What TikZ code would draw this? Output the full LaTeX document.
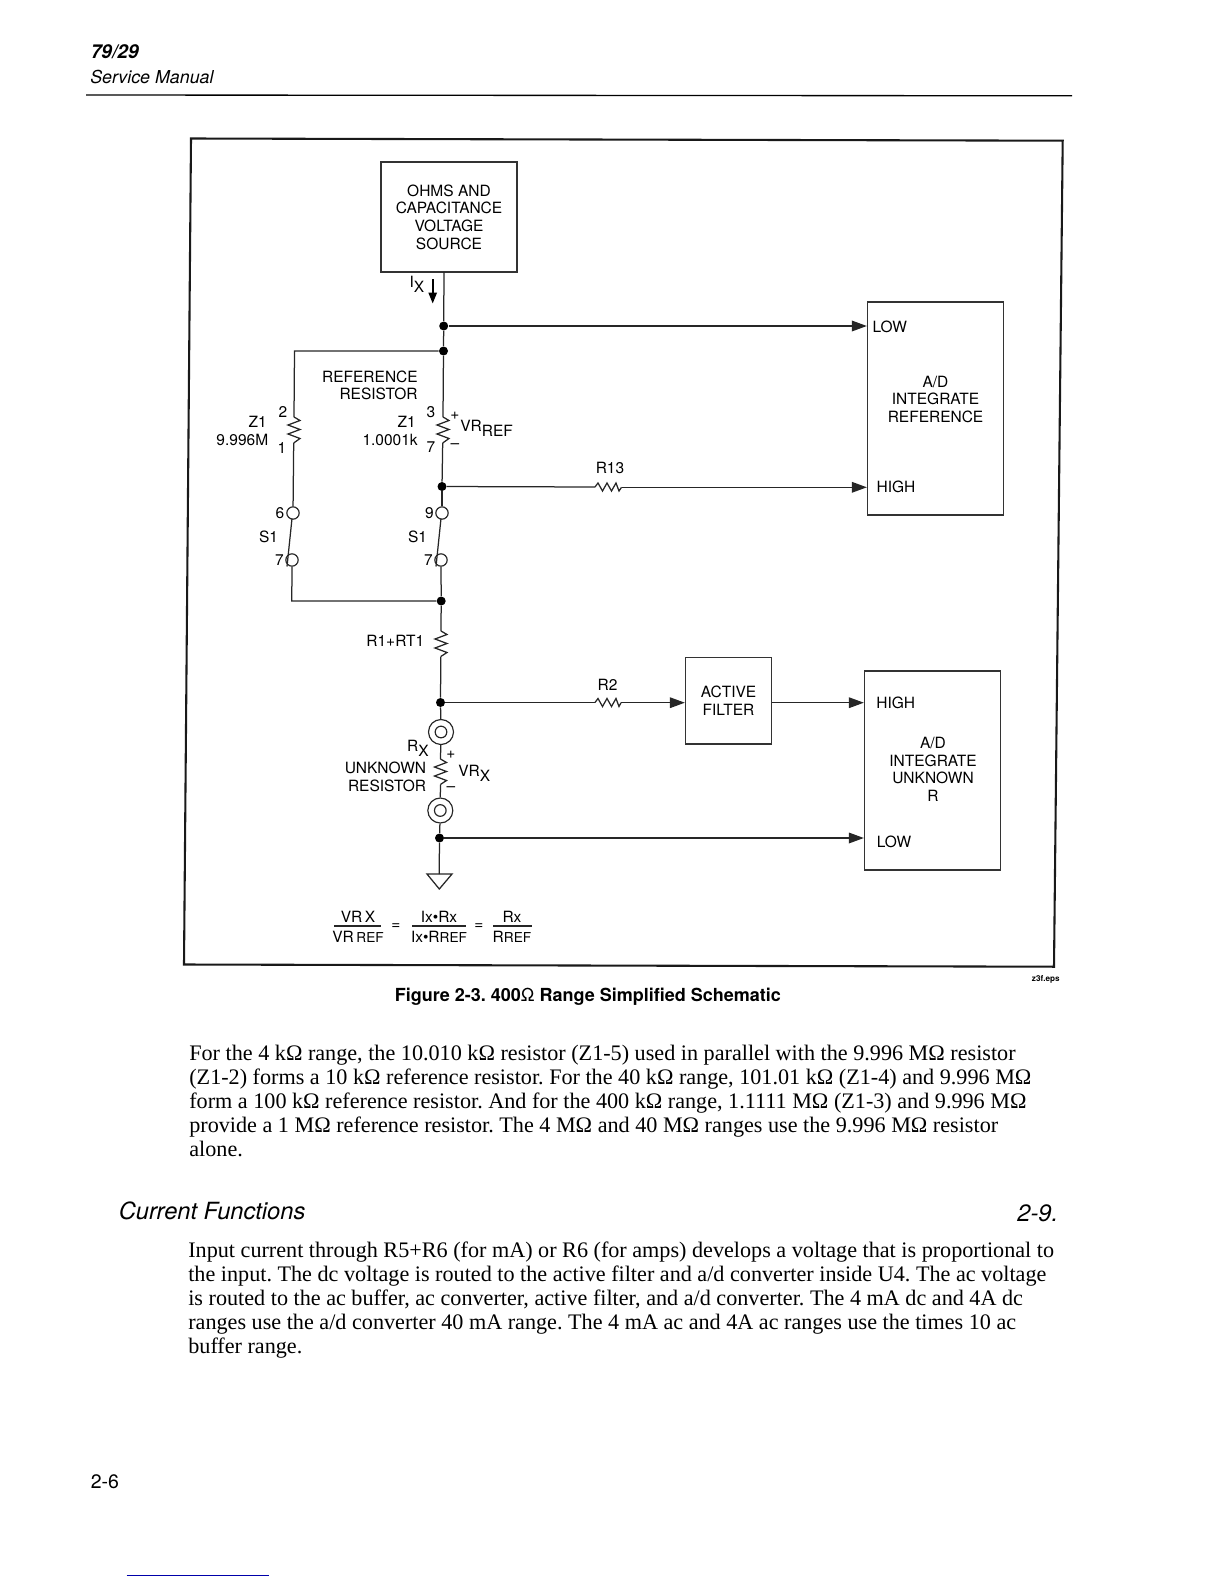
\documentclass[tikz,border=0pt]{standalone}
\usepackage{fontspec}
\setmainfont{TeX Gyre Heros}
\newfontfamily\bodyfont{Liberation Serif}
\usetikzlibrary{arrows.meta}
\frenchspacing
\newcommand{\lab}{\fontsize{9.3}{10.6}\selectfont}
\newcommand{\sublab}[1]{\raisebox{-3pt}{#1}}
\newcommand{\vzig}[2]{\draw[wire] (#1) -- ++(6,3.5) -- ++(-12,4.5) -- ++(12,4.5) -- ++(-12,4.5) -- ++(12,4.5) -- (#2);}
\newcommand{\hzig}[2]{\draw[wire] (#1) -- ++(3,-4) -- ++(4.5,8) -- ++(4.5,-8) -- ++(4.5,8) -- ++(4.5,-8) -- ++(3,8) -- (#2);}
\tikzset{
 x=0.6pt,y=-0.6pt,
 wire/.style={line width=0.75pt,black!85,line join=miter},
 arr/.style={wire,-{Triangle[length=9pt,width=6.4pt]}},
 framel/.style={line width=1.25pt,black!90},
 boxn/.style={draw=black!80,line width=0.8pt,inner sep=0pt,align=center,font=\lab},
 junc/.style={circle,fill=black,inner sep=0pt,minimum size=5.4pt},
 term/.style={circle,draw=black!85,line width=0.7pt,fill=white,inner sep=0pt,minimum size=7.4pt},
 coax/.style={circle,draw=black!85,line width=0.7pt,fill=white,inner sep=0pt,minimum size=15pt},
 coaxin/.style={circle,draw=black!85,line width=0.7pt,fill=white,inner sep=0pt,minimum size=7pt},
 tx/.style={inner sep=0pt,font=\lab,align=center},
 txr/.style={inner sep=0pt,font=\lab,align=right,anchor=east},
 txl/.style={tx,anchor=west},
 bodyl/.style={inner sep=0pt,anchor=base west,font=\bodyfont\fontsize{13.3}{15}\selectfont},
}
\begin{document}
\begin{tikzpicture}
\useasboundingbox (0,0) rectangle (1224,1584);
% header
\node[inner sep=0pt,anchor=base west,font=\fontsize{11.5}{13}\selectfont\bfseries\itshape] (hnum) at (90.5,58) {79/29};
\node[inner sep=0pt,anchor=base west,font=\fontsize{10.7}{13}\selectfont\itshape] (hman) at (90,83) {Service Manual};
\draw[line width=0.8pt] (86,95) -- (1072,95.8);
% frame
\draw[framel] (191,138.5) -- (1062.7,140.7) -- (1054,966.7) -- (184,964.5) -- cycle;
% boxes
\node[boxn,minimum width=81.6pt,minimum height=66pt] (src) at (449,217) {OHMS AND\\CAPACITANCE\\VOLTAGE\\SOURCE};
\node[boxn,minimum width=81.6pt,minimum height=127.8pt] (adr) at (935.5,408.5) {};
\node[boxn,minimum width=51.6pt,minimum height=52pt] (flt) at (728.5,700.5) {ACTIVE\\FILTER};
\node[boxn,minimum width=81.6pt,minimum height=119.4pt] (adu) at (932.5,770.5) {};
% box labels
\node[txl] (lowa) at (872.3,326.5) {LOW};
\node[txl] (higha) at (876.3,487) {HIGH};
\node[tx] (adra) at (935.5,399.3) {A/D\\INTEGRATE\\REFERENCE};
\node[txl] (highb) at (876,703) {HIGH};
\node[txl] (lowb) at (876.5,842) {LOW};
\node[tx] (adua) at (933,769.5) {A/D\\INTEGRATE\\UNKNOWN\\R};
% junctions and terminals
\node[junc] (j1) at (443.7,326) {};
\node[junc] (j2) at (443.5,351) {};
\node[junc] (j3) at (442,486.5) {};
\node[junc] (j4) at (441.2,601) {};
\node[junc] (j5) at (440.5,702.5) {};
\node[junc] (j6) at (439.5,838) {};
\node[term] (t6) at (293,513) {};
\node[term] (t7) at (292,560) {};
\node[term] (t9) at (442,513) {};
\node[term] (t7b) at (441,560) {};
\node[coax] (cxa) at (441,732) {};
\node[coaxin] (cxai) at (441,732) {};
\node[coax] (cxb) at (440.3,810.5) {};
\node[coaxin] (cxbi) at (440.3,810.5) {};
% fixed points
\coordinate (srcb) at (444,272);
\coordinate (c1) at (294.5,351);
\coordinate (c2) at (291.8,601);
\coordinate (r1t) at (294,417);
\coordinate (r1b) at (293.7,443);
\coordinate (r2t) at (443,417);
\coordinate (r2b) at (442.7,443);
\coordinate (r3t) at (441,631);
\coordinate (r3b) at (440.8,656.5);
\coordinate (r4t) at (440.5,759);
\coordinate (r4b) at (440.4,784.5);
\coordinate (r13a) at (595,487);
\coordinate (r13b) at (621.5,487.3);
\coordinate (r2a) at (595,702.5);
\coordinate (r2bb) at (621,702.7);
\coordinate (b6) at (287,566.5);
\coordinate (b9) at (436,566.5);
\coordinate (b6a) at (292,518.5);
\coordinate (b9a) at (441,518.5);
\coordinate (gnd) at (439.2,874);
\coordinate (gl) at (427,874);
\coordinate (gr) at (452,874);
\coordinate (ga) at (439.3,889);
\coordinate (ia) at (432.7,279);
\coordinate (ib) at (432.7,303.5);
% wires
\draw[wire] (srcb) -- (j1);
\draw[wire] (j1) -- (j2);
\draw[wire] (j2) -- (c1) -- (r1t);
\vzig{r1t}{r1b}
\draw[wire] (r1b) -- (t6);
\draw[wire] (j2) -- (r2t);
\vzig{r2t}{r2b}
\draw[wire] (r2b) -- (j3);
\draw[wire] (j3) -- (t9);
\draw[wire] (b6a) -- (b6);
\draw[wire] (b9a) -- (b9);
\draw[wire] (t7) -- (c2) -- (j4);
\draw[wire] (t7b) -- (j4);
\draw[wire] (j4) -- (r3t);
\vzig{r3t}{r3b}
\draw[wire] (r3b) -- (j5);
\draw[wire] (j5) -- (cxa);
\draw[wire] (cxa) -- (r4t);
\vzig{r4t}{r4b}
\draw[wire] (r4b) -- (cxb);
\draw[wire] (cxb) -- (j6);
\draw[wire] (j6) -- (gnd);
\draw[wire] (gl) -- (gr) -- (ga) -- cycle;
\draw[arr] (j1) -- (j1 -| adr.west);
\draw[wire] (j3) -- (r13a);
\hzig{r13a}{r13b}
\draw[arr] (r13b) -- (r13b -| adr.west);
\draw[wire] (j5) -- (r2a);
\hzig{r2a}{r2bb}
\draw[arr] (r2bb) -- (r2bb -| flt.west);
\draw[arr] (flt.east |- r2bb) -- (r2bb -| adu.west);
\draw[arr] (j6) -- (j6 -| adu.west);
\draw[line width=1.1pt,-{Triangle[length=6.6pt,width=5pt]}] (ia) -- (ib);
% labels
\node[tx] (lix) at (417,284) {I\sublab{X}};
\node[txr] (lrr) at (418,385.5) {REFERENCE\\RESISTOR};
\node[txr] (lz1) at (267,422) {Z1};
\node[txr] (lz1v) at (268.5,440) {9.996M};
\node[tx] (l2) at (283,412) {2};
\node[tx] (l1) at (282,448) {1};
\node[txr] (lz2) at (416,422) {Z1};
\node[txr] (lz2v) at (418,440) {1.0001k};
\node[tx] (l3) at (431,412) {3};
\node[tx] (l7) at (431,447.5) {7};
\node[tx] (lp1) at (455,416) {+};
\node[tx] (lm1) at (455,446) {–};
\node[txl] (lvr) at (460,428.5) {VR\sublab{REF}};
\node[tx] (l6) at (280,513) {6};
\node[tx] (l9) at (429.5,513) {9};
\node[tx] (ls1) at (268.5,537) {S1};
\node[tx] (ls2) at (417.5,537) {S1};
\node[tx] (l7c) at (279.5,560) {7};
\node[tx] (l7d) at (428.5,560) {7};
\node[tx] (lr13) at (610,468) {R13};
\node[txr] (lr1) at (424.5,641) {R1+RT1};
\node[tx] (lr2) at (607.5,685) {R2};
\node[tx] (lrx) at (418,748) {R\sublab{X}};
\node[txr] (lun) at (426.5,777) {UNKNOWN\\RESISTOR};
\node[tx] (lp2) at (451,754.5) {+};
\node[tx] (lm2) at (451,789.5) {–};
\node[txl] (lvx) at (458,773.5) {VR\sublab{X}};
% formula
\node[tx] (fa) at (358,917) {VR\,X};
\node[tx] (fb) at (358,937) {VR\,{\fontsize{8.2}{9}\selectfont REF}};
\coordinate (fal) at (334,926);
\coordinate (far) at (381,926);
\draw[wire] (fal) -- (far);
\node[tx] (fe1) at (396,927) {=};
\node[tx] (fc) at (439,917) {Ix•Rx};
\node[tx] (fd) at (439,937) {Ix•R{\fontsize{8.2}{9}\selectfont REF}};
\coordinate (fcl) at (412,926);
\coordinate (fcr) at (466,926);
\draw[wire] (fcl) -- (fcr);
\node[tx] (fe2) at (479,927) {=};
\node[tx] (ff) at (512,917) {Rx};
\node[tx] (fg) at (512,937) {R{\fontsize{8.2}{9}\selectfont REF}};
\coordinate (ffl) at (493,926);
\coordinate (ffr) at (532,926);
\draw[wire] (ffl) -- (ffr);
% caption
\node[inner sep=0pt,anchor=east,font=\fontsize{4.9}{6}\selectfont\bfseries] (eps) at (1060,979.5) {z3f.eps};
\node[inner sep=0pt,anchor=base west,font=\fontsize{10.8}{13}\selectfont\bfseries] (cap) at (394.5,1001.5) {Figure 2-3. 400{\mdseries Ω} Range Simplified Schematic};
% text
\node[bodyl] (b1) at (189,1060.5) {For the 4 kΩ range, the 10.010 kΩ resistor (Z1-5) used in parallel with the 9.996 MΩ resistor};
\node[bodyl] (b2) at (189,1084.5) {(Z1-2) forms a 10 kΩ reference resistor. For the 40 kΩ range, 101.01 kΩ (Z1-4) and 9.996 MΩ};
\node[bodyl] (b3) at (189,1108.5) {form a 100 kΩ reference resistor. And for the 400 kΩ range, 1.1111 MΩ (Z1-3) and 9.996 MΩ};
\node[bodyl] (b4) at (189,1132) {provide a 1 MΩ reference resistor. The 4 MΩ and 40 MΩ ranges use the 9.996 MΩ resistor};
\node[bodyl] (b5) at (189,1156) {alone.};
\node[inner sep=0pt,anchor=base west,font=\fontsize{14.2}{16}\selectfont\itshape] (sec) at (118.5,1219) {Current Functions};
\node[inner sep=0pt,anchor=base east,font=\fontsize{14.2}{16}\selectfont\itshape] (secn) at (1058.5,1221) {2-9.};
\node[bodyl] (c1t) at (188,1257) {Input current through R5+R6 (for mA) or R6 (for amps) develops a voltage that is proportional to};
\node[bodyl] (c2t) at (188,1281) {the input. The dc voltage is routed to the active filter and a/d converter inside U4. The ac voltage};
\node[bodyl] (c3t) at (188,1305) {is routed to the ac buffer, ac converter, active filter, and a/d converter. The 4 mA dc and 4A dc};
\node[bodyl] (c4t) at (188,1329) {ranges use the a/d converter 40 mA range. The 4 mA ac and 4A ac ranges use the times 10 ac};
\node[bodyl] (c5t) at (188,1353) {buffer range.};
\node[inner sep=0pt,anchor=base west,font=\fontsize{11.7}{14}\selectfont] (pg) at (90.5,1488) {2-6};
\draw[line width=0.7pt,draw={rgb,255:red,0;green,0;blue,170}] (126.7,1575.3) -- (269,1575.3);
\end{tikzpicture}
\end{document}
